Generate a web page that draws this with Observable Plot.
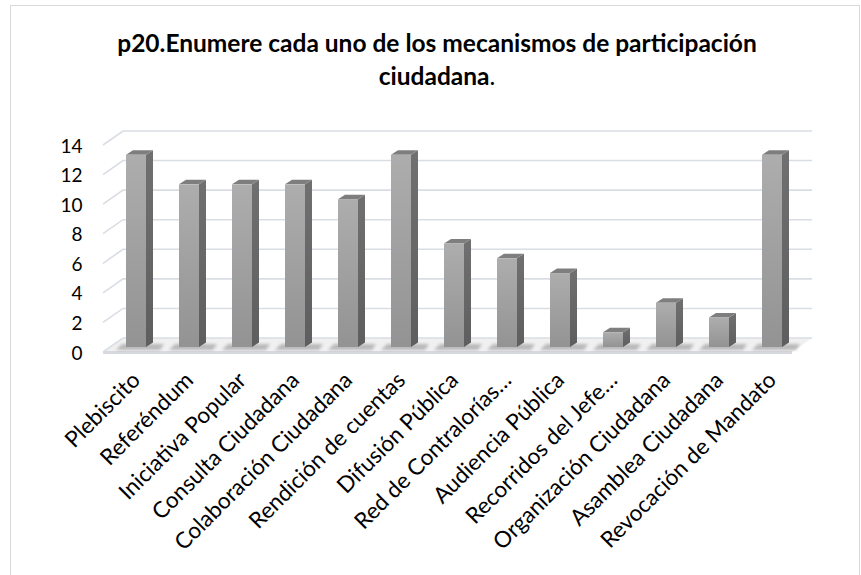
<!DOCTYPE html>
<html><head><meta charset="utf-8">
<script src="https://cdn.jsdelivr.net/npm/d3@7"></script>
<script src="https://cdn.jsdelivr.net/npm/@observablehq/plot@0.6"></script>
<style>
body{margin:0;background:#fff;}
#wrap{position:relative;width:861px;height:575px;overflow:hidden;font-family:Lato,"Open Sans",sans-serif;}
#chart{position:absolute;left:0;top:0;z-index:1}
#frame{position:absolute;left:10px;top:5px;width:850px;height:620px;border:1px solid #d9d9d9;box-sizing:border-box;z-index:2;pointer-events:none}
#title{position:absolute;left:10px;top:26px;width:854px;text-align:center;font-weight:bold;font-size:24.5px;line-height:33px;color:#000;z-index:3}
</style></head><body>
<div id="wrap">
  <div id="chart"></div>
  <div id="frame"></div>
  <div id="title">p20.Enumere cada uno de los mecanismos de participación<br>ciudadana<span style="font-weight:normal">.</span></div>
</div>
<script>
const categories = [
  "Plebiscito", "Referéndum", "Iniciativa Popular", "Consulta Ciudadana",
  "Colaboración Ciudadana", "Rendición de cuentas", "Difusión Pública",
  "Red de Contralorías…", "Audiencia Pública", "Recorridos del Jefe…",
  "Organización Ciudadana", "Asamblea Ciudadana", "Revocación de Mandato"
];
const values = [13, 11, 11, 11, 10, 13, 7, 6, 5, 1, 3, 2, 13];
const yTicks = [0, 2, 4, 6, 8, 10, 12, 14];

const data = categories.map((c, i) => ({cat: c, val: values[i]}));

// 3D look parameters
const wall = {dx: 13, dy: -9};   // back wall offset from bar front plane
const front = {dx: -7, dy: 5};   // floor front edge offset
const ext = {dx: 7, dy: -4.5};   // bar extrusion

function bandwidthOf(s) { return typeof s.bandwidth === "function" ? s.bandwidth() : s.bandwidth; }

function floorRender(index, scales, values, dims) {
  const g = d3.create("svg:g");
  const x0 = dims.marginLeft, x1 = dims.width - dims.marginRight;
  for (const i of index) {
    const y = values.y[i];
    g.append("path")
      .attr("d", `M${x0 + front.dx},${y + front.dy}L${x0 + wall.dx},${y + wall.dy}H${x1 + wall.dx}L${x1 + front.dx},${y + front.dy}Z`)
      .attr("fill", "#f0f0f0");
    g.append("path")
      .attr("d", `M${x0 + front.dx},${y + front.dy + 0.5}H${x1 + front.dx}`)
      .attr("stroke", "#d6d9de").attr("stroke-width", 3);
  }
  return g.node();
}

function gridRender(index, scales, values, dims) {
  const g = d3.create("svg:g");
  const x0 = dims.marginLeft, x1 = dims.width - dims.marginRight;
  for (const i of index) {
    const y = values.y[i];
    g.append("path")
      .attr("d", `M${x0 + front.dx},${y + front.dy}L${x0 + wall.dx},${y + wall.dy}H${x1 + wall.dx}`)
      .attr("fill", "none").attr("stroke", "#d9dde4").attr("stroke-width", 1.6);
  }
  return g.node();
}

function barRender(index, scales, values, dims) {
  const g = d3.create("svg:g");
  const defs = g.append("defs");
  const gf = defs.append("linearGradient").attr("id", "gFront").attr("x1", 0).attr("y1", 0).attr("x2", 0).attr("y2", 1);
  gf.append("stop").attr("offset", 0).attr("stop-color", "#adadad");
  gf.append("stop").attr("offset", 1).attr("stop-color", "#939393");
  const gs = defs.append("linearGradient").attr("id", "gSide").attr("x1", 0).attr("y1", 0).attr("x2", 0).attr("y2", 1);
  gs.append("stop").attr("offset", 0).attr("stop-color", "#707070");
  gs.append("stop").attr("offset", 1).attr("stop-color", "#5e5e5e");
  const blur = defs.append("filter").attr("id", "shBlur").attr("x", "-50%").attr("y", "-200%").attr("width", "200%").attr("height", "500%");
  blur.append("feGaussianBlur").attr("stdDeviation", 1.6);
  const bw = bandwidthOf(scales.x);
  const X = values.x, Y1 = values.y1, Y2 = values.y2;
  for (const i of index) {
    const x = X[i], w = bw;
    const yt = Math.min(Y1[i], Y2[i]), yb = Math.max(Y1[i], Y2[i]);
    g.append("path")
      .attr("d", `M${x - 10},${yb + 3}L${x + w + 14},${yb + 3}L${x + w + 18},${yb - 3}L${x - 4},${yb - 3}Z`)
      .attr("fill", "#8c8c8c").attr("opacity", 0.55).attr("filter", "url(#shBlur)");
    g.append("path")
      .attr("d", `M${x + w},${yt}L${x + w + ext.dx},${yt + ext.dy}L${x + w + ext.dx},${yb + ext.dy}L${x + w},${yb}Z`)
      .attr("fill", "url(#gSide)");
    g.append("path")
      .attr("d", `M${x},${yt}L${x + ext.dx},${yt + ext.dy}L${x + w + ext.dx},${yt + ext.dy}L${x + w},${yt}Z`)
      .attr("fill", "#7e7e7e");
    g.append("rect")
      .attr("x", x).attr("y", yt).attr("width", w).attr("height", yb - yt)
      .attr("fill", "url(#gFront)");
  }
  return g.node();
}

const chart = Plot.plot({
  width: 861,
  height: 575,
  marginLeft: 110,
  marginRight: 62,
  marginTop: 140,
  marginBottom: 228,
  style: {background: "transparent", fontFamily: "Lato, 'Open Sans', sans-serif", color: "#000", overflow: "visible"},
  x: {domain: categories, paddingInner: 0.617, paddingOuter: 0.3085, axis: null},
  y: {domain: [0, 14], axis: null},
  marks: [
    Plot.ruleY([0], {y: d => d, render: floorRender}),
    Plot.ruleY(yTicks, {y: d => d, render: gridRender}),
    Plot.barY(data, {x: "cat", y: "val", render: barRender}),
    Plot.axisY(yTicks, {tickSize: 0, tickPadding: 28, dy: 6, fontSize: 19, label: null}),
    Plot.axisX({tickSize: 0, tickPadding: 29, tickRotate: -45, fontSize: 22.5, label: null})
  ]
});
document.getElementById("chart").appendChild(chart);
</script>
</body></html>
